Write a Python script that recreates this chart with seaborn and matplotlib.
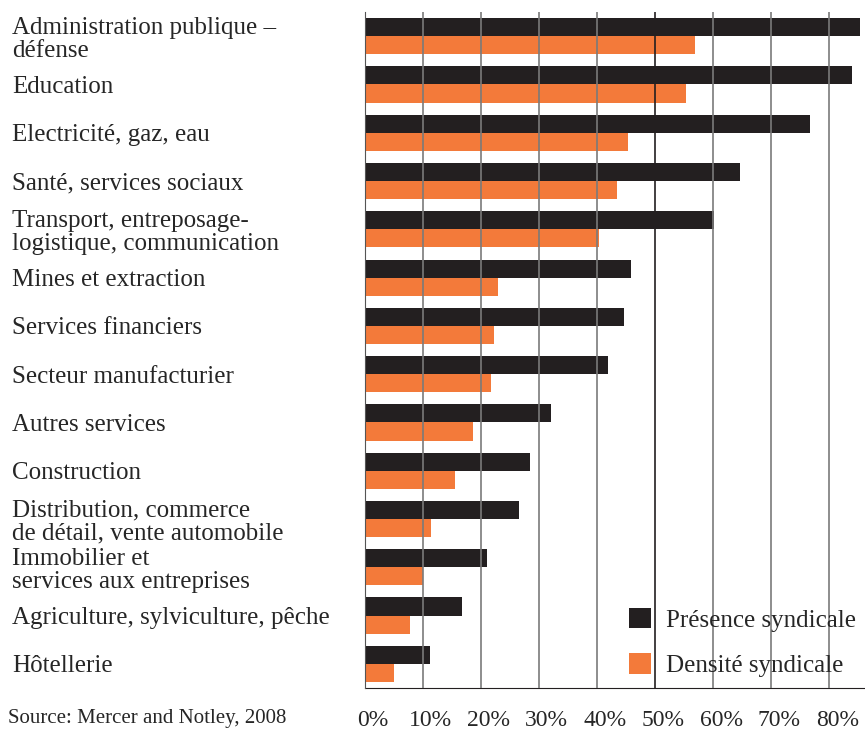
import pandas as pd
import matplotlib.pyplot as plt
import matplotlib.transforms as mtransforms
import seaborn as sns

# Data
secteurs = [
    "Administration publique –\ndéfense",
    "Education",
    "Electricité, gaz, eau",
    "Santé, services sociaux",
    "Transport, entreposage-\nlogistique, communication",
    "Mines et extraction",
    "Services financiers",
    "Secteur manufacturier",
    "Autres services",
    "Construction",
    "Distribution, commerce\nde détail, vente automobile",
    "Immobilier et\nservices aux entreprises",
    "Agriculture, sylviculture, pêche",
    "Hôtellerie",
]
presence = [85.2, 83.9, 76.7, 64.6, 60.1, 45.8, 44.6, 41.9, 32.1, 28.5, 26.6, 21.1, 16.7, 11.2]
densite = [56.9, 55.4, 45.4, 43.5, 40.4, 23.0, 22.3, 21.8, 18.7, 15.5, 11.4, 10.1, 7.9, 5.0]
series = ["Présence syndicale", "Densité syndicale"]
xticks = [0, 10, 20, 30, 40, 50, 60, 70, 80]
source = "Source: Mercer and Notley, 2008"

colors = {"Présence syndicale": "#231f20", "Densité syndicale": "#f37a3a"}

df = pd.DataFrame({
    "secteur": secteurs * 2,
    "valeur": presence + densite,
    "serie": [series[0]] * len(secteurs) + [series[1]] * len(secteurs),
})

sns.set_style("white")
plt.rcParams["font.family"] = ["Liberation Serif", "DejaVu Serif"]

fig = plt.figure(figsize=(8.65, 7.3), dpi=100)
ax = fig.add_axes([0.4214, 0.0575, 0.5777, 0.926])

sns.barplot(data=df, y="secteur", x="valeur", hue="serie", orient="h",
            palette=colors, width=0.75, saturation=1, linewidth=0, ax=ax)

ax.set_xlim(0, 86)
ax.set_ylim(len(secteurs) - 0.5, -0.5)
ax.set_xlabel("")
ax.set_ylabel("")

# grid on top of the bars
ax.set_xticks(xticks)
ax.set_xticklabels([f"{t}%" for t in xticks], fontsize=17)
for t in xticks[1:]:
    ax.axvline(t, color="#231f20" if t == 50 else "#7a7a7a", lw=1.2, zorder=5)

ax.tick_params(axis="x", length=5, width=1, color="#555555", pad=11)
shift = mtransforms.ScaledTranslation(8 / 100, 0, fig.dpi_scale_trans)
for lab in ax.get_xticklabels():
    lab.set_transform(lab.get_transform() + shift)

# left aligned category labels
ax.set_yticks(range(len(secteurs)))
ax.set_yticklabels(secteurs, fontsize=18)
ax.tick_params(axis="y", which="major", length=0, pad=254)
for lab in ax.get_yticklabels():
    lab.set_horizontalalignment("left")
    lab.set_linespacing(1.08)
ax.set_yticks([i - 0.5 for i in range(len(secteurs) + 1)], minor=True)
ax.tick_params(axis="y", which="minor", length=4, width=1, color="#555555")

for s in ["top", "right"]:
    ax.spines[s].set_visible(False)
ax.spines["left"].set_color("#555555")
ax.spines["bottom"].set_color("#231f20")
ax.spines["left"].set_zorder(6)

ax.legend(loc="lower right", bbox_to_anchor=(1.019, -0.0095), frameon=False,
          fontsize=18, handlelength=0.9, handleheight=0.9,
          labelspacing=0.85, handletextpad=0.6, borderaxespad=0.3)

fig.text(8 / 865, 1 - 718 / 730, source, fontsize=15, va="center", ha="left")

fig.savefig("out.png", dpi=100)
